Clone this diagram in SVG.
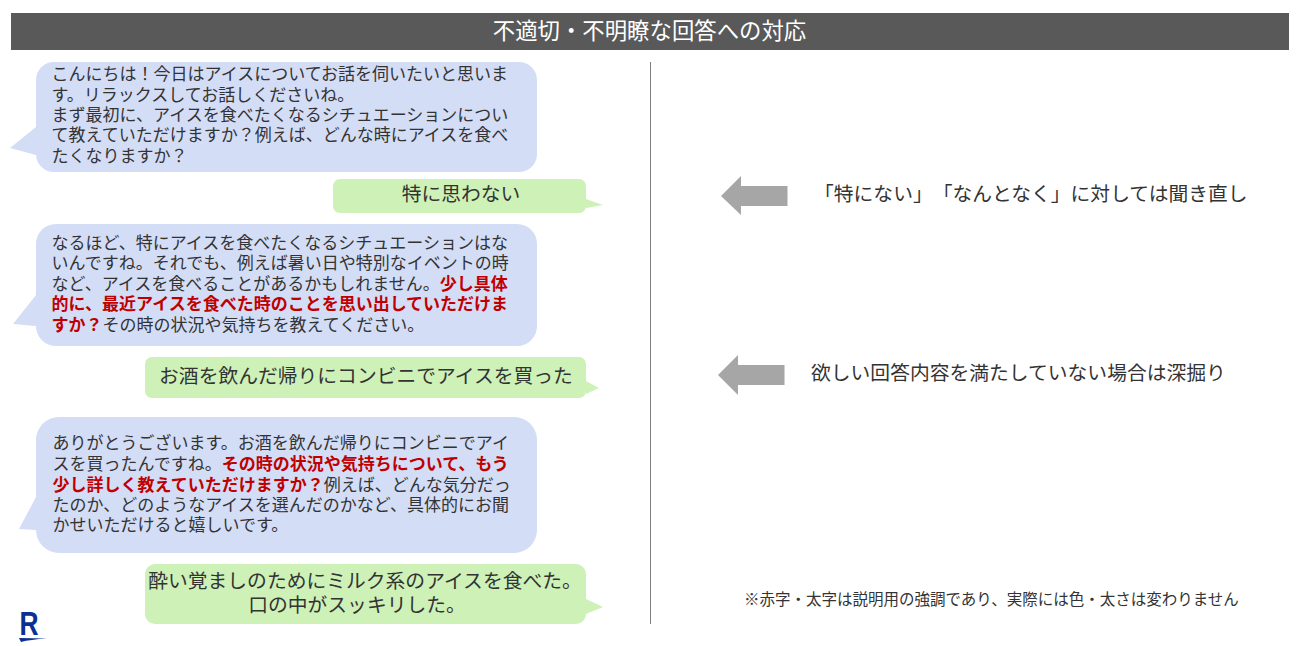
<svg xmlns="http://www.w3.org/2000/svg" width="1300" height="646" viewBox="0 0 1300 646">
<style>
text{font-family:"Noto Sans CJK JP","Noto Sans",sans-serif;fill:#333;text-spacing-trim:space-all}
.b{fill:#d4ddf6}
.g{fill:#cdf1b7}
.m{font-size:17px}
.l{font-size:19.8px}
.c{text-anchor:middle}
.r{fill:#c00000;font-weight:700}
.a{fill:#a6a6a6}
</style>
<rect width="1300" height="646" fill="#fff"/>
<g id="header"><rect x="11" y="13" width="1278" height="37" fill="#595959"/><text x="649.500" y="39" class="c" style="fill:#fff;font-size:22.400px">不適切・不明瞭な回答への対応</text></g>
<g id="divider"><line x1="650.500" y1="62" x2="650.500" y2="624" stroke="#7f7f7f" stroke-width="1"/></g>
<g id="bubble-1">
<path class="b" d="M54 62H519a18 18 0 0 1 18 18V154a18 18 0 0 1-18 18H54a18 18 0 0 1-18-18V155L10 148L36 127V80a18 18 0 0 1 18-18Z"/>
<text class="m"><tspan x="51.500" y="80">こんにちは！今日はアイスについてお話を伺いたいと思いま</tspan><tspan x="51.500" y="101">す。リラックスしてお話しくださいね。</tspan><tspan x="51.500" y="121">まず最初に、アイスを食べたくなるシチュエーションについ</tspan><tspan x="51.500" y="141">て教えていただけますか？例えば、どんな時にアイスを食べ</tspan><tspan x="51.500" y="162">たくなりますか？</tspan></text>
</g>
<g id="reply-1">
<path class="g" d="M340 179H579a7 7 0 0 1 7 7V199L603 205L586 208V206a7 7 0 0 1-7 7H340a7 7 0 0 1-7-7V186a7 7 0 0 1 7-7Z"/>
<text x="461" y="201" class="l c">特に思わない</text>
</g>
<g id="bubble-2">
<path class="b" d="M56 224H517a20 20 0 0 1 20 20V326a20 20 0 0 1-20 20H56a20 20 0 0 1-20-20V326L13 324L36 295V244a20 20 0 0 1 20-20Z"/>
<text class="m"><tspan x="51.500" y="249">なるほど、特にアイスを食べたくなるシチュエーションはな</tspan><tspan x="51.500" y="269">いんですね。それでも、例えば暑い日や特別なイベントの時</tspan><tspan x="51.500" y="290">など、アイスを食べることがあるかもしれません。<tspan class="r">少し具体</tspan></tspan><tspan x="51.500" y="310" class="r">的に、最近アイスを食べた時のことを思い出していただけま</tspan><tspan x="51.500" y="331"><tspan class="r">すか？</tspan>その時の状況や気持ちを教えてください。</tspan></text>
</g>
<g id="reply-2">
<path class="g" d="M152 357H579a7 7 0 0 1 7 7V381L599 388L586 394V391a7 7 0 0 1-7 7H152a7 7 0 0 1-7-7V364a7 7 0 0 1 7-7Z"/>
<text x="366" y="383" class="l c">お酒を飲んだ帰りにコンビニでアイスを買った</text>
</g>
<g id="bubble-3">
<path class="b" d="M59 417H514a23 23 0 0 1 23 23V530a23 23 0 0 1-23 23H59a23 23 0 0 1-23-23V530L19 529L36 497V440a23 23 0 0 1 23-23Z"/>
<text class="m"><tspan x="52.500" y="449">ありがとうございます。お酒を飲んだ帰りにコンビニでアイ</tspan><tspan x="52.500" y="470">スを買ったんですね。<tspan class="r">その時の状況や気持ちについて、もう</tspan></tspan><tspan x="52.500" y="491"><tspan class="r">少し詳しく教えていただけますか？</tspan>例えば、どんな気分だっ</tspan><tspan x="52.500" y="511">たのか、どのようなアイスを選んだのかなど、具体的にお聞</tspan><tspan x="52.500" y="531">かせいただけると嬉しいです。</tspan></text>
</g>
<g id="reply-3">
<path class="g" d="M155 564H576a10 10 0 0 1 10 10V599L603 607L586 614V614a10 10 0 0 1-10 10H155a10 10 0 0 1-10-10V574a10 10 0 0 1 10-10Z"/>
<text class="l c"><tspan x="365" y="588">酔い覚ましのためにミルク系のアイスを食べた。</tspan><tspan x="357" y="612">口の中がスッキリした。</tspan></text>
</g>
<g id="connectors">
<polygon class="a" points="721,196 741,176 741,186 787.500,186 787.500,206 741,206 741,215"/>
<polygon class="a" points="718,375 738,355 738,365 784.500,365 784.500,385 738,385 738,395"/>
</g>
<g id="note-1"><text x="814" y="201" class="l">「特にない」「なんとなく」に対しては聞き直し</text></g>
<g id="note-2"><text x="811" y="380" class="l">欲しい回答内容を満たしていない場合は深掘り</text></g>
<g id="footnote"><text x="744" y="605" style="font-size:15.500px">※赤字・太字は説明用の強調であり、実際には色・太さは変わりません</text></g>
<g id="logo"><text transform="translate(19.500 635) scale(.8 1)" style="font-family:'Liberation Sans',sans-serif;font-size:33px;font-weight:700;fill:#0b2f92">R</text><path d="M19 638L47 638.500Q30 639.500 21 642Z" fill="#0b2f92"/></g>
</svg>
